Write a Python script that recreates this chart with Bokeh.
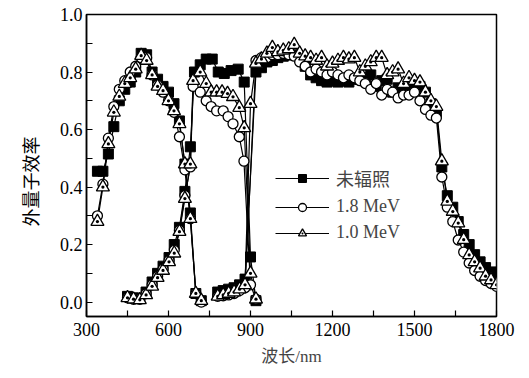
import math
from bokeh.plotting import figure
from bokeh.models import Range1d, Legend, LegendItem, Title, FixedTicker
from bokeh.embed import file_html
from bokeh.resources import INLINE

NAN = float("nan")

# ---------------- data ----------------
# top sub-cell segment (340-720 nm)
top_x = [340, 360, 380, 400, 420, 440, 460, 480, 500, 520, 540, 560, 580, 600, 620, 640, 660, 680, 700, 720]
sq_top_y = [0.455, 0.455, 0.515, 0.61, 0.70, 0.74, 0.765, 0.80, 0.865, 0.86, 0.80, 0.775, 0.75, 0.73, 0.69, 0.63, 0.48, 0.31, 0.03, 0.005]
ci_top_y = [0.30, 0.41, 0.57, 0.68, 0.74, 0.77, 0.80, 0.82, 0.85, 0.85, 0.79, 0.755, 0.73, 0.70, 0.66, 0.575, 0.46, 0.29, 0.03, 0.0]
tr_top_y = [0.28, 0.40, 0.55, 0.66, 0.715, 0.76, 0.78, 0.81, 0.857, 0.84, 0.79, 0.75, 0.735, 0.70, 0.665, 0.62, 0.48, 0.29, 0.03, 0.005]

# middle sub-cell segment (450-920 nm)
sq_mid_x = [450, 472, 495, 518, 540, 560, 580, 602, 621, 640, 660, 680, 695, 716, 738, 760, 782, 804, 829, 855, 877, 900, 920]
sq_mid_y = [0.02, 0.015, 0.012, 0.035, 0.07, 0.10, 0.125, 0.155, 0.20, 0.26, 0.385, 0.54, 0.80, 0.825, 0.845, 0.845, 0.80, 0.795, 0.805, 0.81, 0.765, 0.157, 0.005]
ci_mid_x = [450, 472, 495, 518, 540, 560, 580, 602, 621, 640, 660, 680, 690, 716, 738, 756, 776, 800, 818, 836, 859, 876, 900, 920]
ci_mid_y = [0.015, 0.01, 0.01, 0.03, 0.06, 0.09, 0.115, 0.145, 0.18, 0.25, 0.37, 0.47, 0.75, 0.73, 0.70, 0.68, 0.665, 0.665, 0.645, 0.62, 0.575, 0.49, 0.06, 0.01]
tr_mid_x = [450, 472, 495, 518, 540, 560, 580, 602, 621, 640, 660, 680, 690, 716, 738, 756, 776, 796, 816, 836, 859, 877, 900, 920]
tr_mid_y = [0.015, 0.01, 0.008, 0.025, 0.055, 0.085, 0.11, 0.14, 0.17, 0.245, 0.36, 0.48, 0.77, 0.80, 0.76, 0.73, 0.73, 0.73, 0.725, 0.714, 0.676, 0.606, 0.10, 0.01]

# bottom sub-cell segment (780-1800 nm)
sq_bot_x = [780, 800, 820, 840, 860, 880, 920, 940, 960, 980, 1000, 1020, 1040, 1060, 1080, 1100, 1120, 1140, 1160, 1180,
            1200, 1220, 1240, 1260, 1280, 1300, 1320, 1340, 1360, 1380, 1400, 1420, 1440, 1460, 1480, 1500, 1520, 1540,
            1560, 1580, 1600, 1620, 1640, 1660, 1680, 1700, 1720, 1740, 1760, 1780, 1800]
sq_bot_y = [0.035, 0.04, 0.045, 0.05, 0.06, 0.08, 0.80, 0.815, 0.835, 0.84, 0.85, 0.855, 0.86, 0.86, 0.85, 0.82, 0.79, 0.78, 0.77, 0.765,
            0.77, 0.765, 0.77, 0.765, 0.775, 0.775, 0.78, 0.79, 0.75, 0.77, 0.775, 0.73, 0.745, 0.74, 0.745, 0.75, 0.75, 0.73,
            0.69, 0.66, 0.47, 0.37, 0.33, 0.28, 0.235, 0.20, 0.165, 0.14, 0.12, 0.105, 0.09]
ci_bot_x = [780, 800, 820, 840, 860, 880, 920, 940, 960, 980, 1000, 1020, 1040, 1060, 1080, 1100, 1120, 1140, 1160, 1180,
            1200, 1220, 1240, 1260, 1280, 1300, 1320, 1340, 1360, 1380, 1400, 1420, 1440, 1460, 1480, 1500, 1520, 1540,
            1560, 1580, 1600, 1620, 1640, 1660, 1680, 1700, 1720, 1740, 1760, 1780, 1800]
ci_bot_y = [0.02, 0.022, 0.025, 0.03, 0.04, 0.05, 0.84, 0.85, 0.85, 0.86, 0.86, 0.865, 0.86, 0.855, 0.835, 0.82, 0.80, 0.81, 0.80, 0.79,
            0.80, 0.79, 0.78, 0.79, 0.78, 0.77, 0.76, 0.74, 0.76, 0.72, 0.74, 0.73, 0.71, 0.72, 0.72, 0.73, 0.70, 0.67,
            0.65, 0.64, 0.435, 0.33, 0.28, 0.216, 0.174, 0.136, 0.11, 0.09, 0.075, 0.065, 0.055]
tr_bot_x = [780, 800, 820, 840, 860, 880, 900, 920, 940, 960, 980, 1000, 1020, 1040, 1060, 1080, 1100, 1120, 1140, 1160, 1180,
            1200, 1220, 1240, 1260, 1280, 1300, 1320, 1340, 1360, 1380, 1400, 1420, 1440, 1460, 1480, 1500, 1520, 1540,
            1560, 1580, 1600, 1620, 1640, 1660, 1680, 1700, 1720, 1740, 1760, 1780, 1800]
tr_bot_y = [0.02, 0.025, 0.03, 0.035, 0.045, 0.06, 0.69, 0.83, 0.845, 0.865, 0.885, 0.87, 0.875, 0.88, 0.895, 0.865, 0.855, 0.85, 0.84, 0.85, 0.82,
            0.83, 0.84, 0.85, 0.845, 0.85, 0.80, 0.82, 0.835, 0.85, 0.85, 0.79, 0.80, 0.81, 0.76, 0.78, 0.77, 0.765, 0.73,
            0.70, 0.68, 0.49, 0.35, 0.315, 0.275, 0.217, 0.164, 0.14, 0.118, 0.09, 0.077, 0.06]

series_labels = ["未辐照", "1.8 MeV", "1.0 MeV"]
x_ticks = [300, 600, 900, 1200, 1500, 1800]
y_ticks = [0.0, 0.2, 0.4, 0.6, 0.8, 1.0]
y_tick_labels = ["0.0", "0.2", "0.4", "0.6", "0.8", "1.0"]
x_title = "波长/nm"
y_title = "外量子效率"


def join(*segs):
    xs, ys = [], []
    for i, (sx, sy) in enumerate(segs):
        if i:
            xs.append(NAN)
            ys.append(NAN)
        xs += list(sx)
        ys += list(sy)
    return xs, ys


SERIF = "'Liberation Serif', 'Noto Sans CJK SC'"
CJK = "'Noto Sans CJK SC'"

p = figure(width=529, height=378, output_backend="svg", toolbar_location=None,
           x_range=Range1d(300, 1800), y_range=Range1d(-0.05, 1.0),
           min_border_left=85, min_border_right=33, min_border_top=14, min_border_bottom=62)
p.background_fill_color = "white"
p.border_fill_color = "white"
p.grid.visible = False
p.outline_line_color = "black"
p.outline_line_width = 1.5

sq_x, sq_y = join((top_x, sq_top_y), (sq_mid_x, sq_mid_y), (sq_bot_x, sq_bot_y))
ci_x, ci_y = join((top_x, ci_top_y), (ci_mid_x, ci_mid_y), (ci_bot_x, ci_bot_y))
tr_x, tr_y = join((top_x, tr_top_y), (tr_mid_x, tr_mid_y), (tr_bot_x, tr_bot_y))

l1 = p.line(sq_x, sq_y, line_color="black", line_width=1.2)
l2 = p.line(ci_x, ci_y, line_color="black", line_width=1.2)
l3 = p.line(tr_x, tr_y, line_color="black", line_width=1.2)

m1 = p.scatter(sq_x, sq_y, marker="square", size=10, fill_color="black", line_color="black")
m2 = p.scatter(ci_x, ci_y, marker="circle", size=10, fill_color="white", line_color="black", line_width=1.3)
m3 = p.scatter(tr_x, tr_y, marker="triangle_dot", size=13, fill_color="white", line_color="black", line_width=1.3)

# axes
for ax in (p.xaxis[0], p.yaxis[0]):
    ax.axis_line_color = "black"
    ax.axis_line_width = 1.5
    ax.major_tick_in = 6
    ax.major_tick_out = 0
    ax.minor_tick_in = 6
    ax.minor_tick_out = 0
    ax.major_tick_line_width = 1.2
    ax.minor_tick_line_width = 1.2
    ax.major_label_text_font = SERIF
    ax.major_label_text_font_size = "18px"
    ax.major_label_text_color = "black"

p.xaxis[0].ticker = FixedTicker(ticks=x_ticks, minor_ticks=[x + 150 for x in x_ticks[:-1]])
p.yaxis[0].ticker = FixedTicker(ticks=y_ticks, minor_ticks=[y + 0.1 for y in y_ticks[:-1]])
p.yaxis[0].major_label_overrides = {t: s for t, s in zip(y_ticks, y_tick_labels)}
p.xaxis[0].major_label_standoff = 6
p.yaxis[0].major_label_standoff = 4

p.xaxis[0].axis_label = x_title
p.xaxis[0].axis_label_text_font = SERIF
p.xaxis[0].axis_label_text_font_size = "17px"
p.xaxis[0].axis_label_text_font_style = "normal"
p.xaxis[0].axis_label_standoff = 8

ytitle = Title(text=y_title, align="left", offset=90, standoff=28,
               text_font=CJK, text_font_size="18px", text_font_style="normal",
               text_color="black")
p.add_layout(ytitle, "left")

legend = Legend(items=[LegendItem(label=series_labels[0], renderers=[l1, m1]),
                       LegendItem(label=series_labels[1], renderers=[l2, m2]),
                       LegendItem(label=series_labels[2], renderers=[l3, m3])],
                location=(189, 73), glyph_width=54, glyph_height=20, spacing=5,
                padding=0, margin=0, label_standoff=7,
                label_text_font=SERIF, label_text_font_size="18px",
                border_line_color=None, background_fill_alpha=0)
p.add_layout(legend)

open("out.html", "w").write(file_html(p, INLINE))
